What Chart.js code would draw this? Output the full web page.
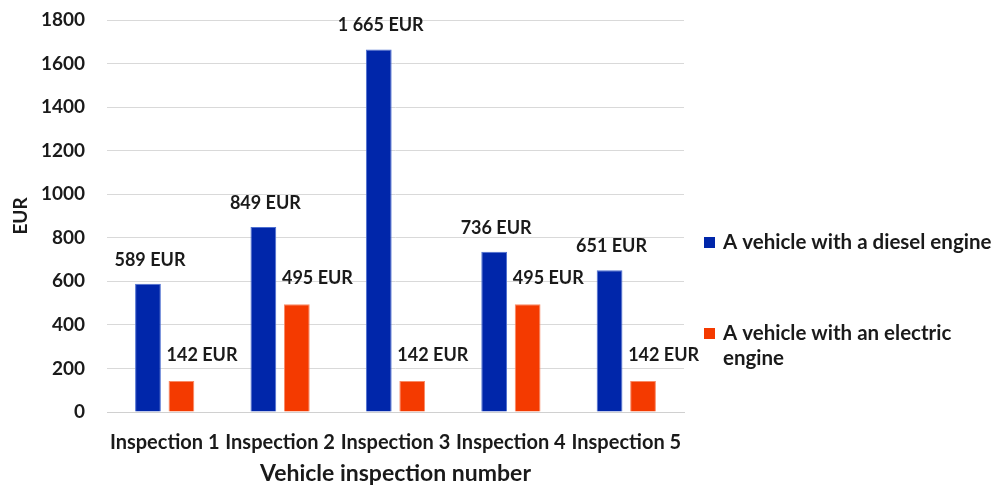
<!DOCTYPE html>
<html>
<head>
<meta charset="utf-8">
<script src="https://cdn.jsdelivr.net/npm/chart.js@4"></script>
<style>
  html, body { margin: 0; padding: 0; background: #fff; }
  #wrap { width: 998px; height: 488px; }
</style>
</head>
<body>
<div id="wrap"><canvas id="chart-inspections"></canvas></div>
<script>
const inspection_labels = ["Inspection 1", "Inspection 2", "Inspection 3", "Inspection 4", "Inspection 5"];
const series_names = ["A vehicle with a diesel engine", "A vehicle with an electric engine"];
const diesel_costs = [589, 849, 1665, 736, 651];
const electric_costs = [142, 495, 142, 495, 142];

const FONT = "Lato";

// 1665 -> "1 665 EUR"
function eur(v) {
  return String(v).replace(/\B(?=(\d{3})+(?!\d))/g, " ") + " EUR";
}

const label_plugin = {
  id: "barLabels",
  afterDatasetsDraw(chart) {
    const ctx = chart.ctx;
    ctx.save();
    ctx.fillStyle = "#1a1a1a";
    ctx.textBaseline = "middle";
    chart.data.datasets.forEach((ds, i) => {
      const meta = chart.getDatasetMeta(i);
      meta.data.forEach((bar, j) => {
        ctx.font = "bold 18px " + FONT;
        if (i === 0) {
          ctx.textAlign = "center";
          ctx.fillText(eur(ds.data[j]), bar.x + 2, bar.y - 24);
        } else {
          ctx.textAlign = "left";
          ctx.fillText(eur(ds.data[j]), bar.x - bar.width / 2 - 2, bar.y - 26);
        }
      });
    });
    ctx.restore();
  }
};

// legend on the right, with wrapping like the original
const legend_plugin = {
  id: "sideLegend",
  afterDraw(chart) {
    const ctx = chart.ctx;
    const x0 = chart.chartArea.right + 20;
    const tx = x0 + 19;
    const maxW = chart.width - tx;
    const centers = [242, 333];
    ctx.save();
    ctx.font = "bold 20.5px " + FONT;
    ctx.textBaseline = "middle";
    ctx.textAlign = "left";
    chart.data.datasets.forEach((ds, i) => {
      // wrap words
      const words = ds.label.split(" ");
      const lines = [];
      let cur = "";
      words.forEach(w => {
        const test = cur ? cur + " " + w : w;
        if (ctx.measureText(test).width > maxW && cur) {
          lines.push(cur);
          cur = w;
        } else {
          cur = test;
        }
      });
      lines.push(cur);
      const y = centers[i];
      ctx.fillStyle = ds.backgroundColor;
      ctx.fillRect(x0, y - 5, 11, 11);
      ctx.fillStyle = "#1a1a1a";
      lines.forEach((ln, k) => ctx.fillText(ln, tx, y + k * 25));
    });
    ctx.restore();
  }
};

new Chart(document.getElementById("chart-inspections"), {
  type: "bar",
  data: {
    labels: inspection_labels,
    datasets: [{
      label: series_names[0],
      data: diesel_costs,
      backgroundColor: "#0026AA",
      borderColor: "#4d6fd0",
      borderWidth: 1
    },
    {
      label: series_names[1],
      data: electric_costs,
      backgroundColor: "#F43A00",
      borderColor: "#f88a66",
      borderWidth: 1
    }]
  },
  options: {
    responsive: true,
    maintainAspectRatio: false,
    animation: false,
    datasets: {
      bar: {
        categoryPercentage: 0.58,
        barPercentage: 0.77
      }
    },
    layout: {
      padding: { left: 0, right: 314, top: 20, bottom: 0 }
    },
    plugins: {
      legend: { display: false },
      tooltip: { enabled: false }
    },
    scales: {
      x: {
        grid: { display: false, drawTicks: false },
        border: { color: "#d0d0d0", width: 1 },
        ticks: {
          color: "#1a1a1a",
          padding: 19,
          maxRotation: 0,
          autoSkip: false,
          font: { family: FONT, size: 20, weight: "bold" }
        },
        title: {
          display: true,
          text: "Vehicle inspection number",
          color: "#1a1a1a",
          padding: { top: 0, bottom: 1 },
          font: { family: FONT, size: 23, weight: "bold" }
        },
        afterFit(scale) { scale.height = 76; }
      },
      y: {
        min: 0,
        max: 1800,
        grid: { color: "#d9d9d9", drawTicks: false },
        border: { display: false },
        ticks: {
          stepSize: 200,
          color: "#1a1a1a",
          padding: 22,
          font: { family: FONT, size: 19, weight: "bold" },
          callback: v => String(v)
        },
        title: {
          display: true,
          text: "EUR",
          color: "#1a1a1a",
          padding: { top: 9, bottom: 0 },
          font: { family: FONT, size: 19, weight: "bold" }
        },
        afterFit(scale) {
          scale.width = 107;
          // tick padding would otherwise push the plot area down
          scale.paddingTop = 0;
          scale.paddingBottom = 0;
        }
      }
    }
  },
  plugins: [label_plugin, legend_plugin]
});
</script>
</body>
</html>
